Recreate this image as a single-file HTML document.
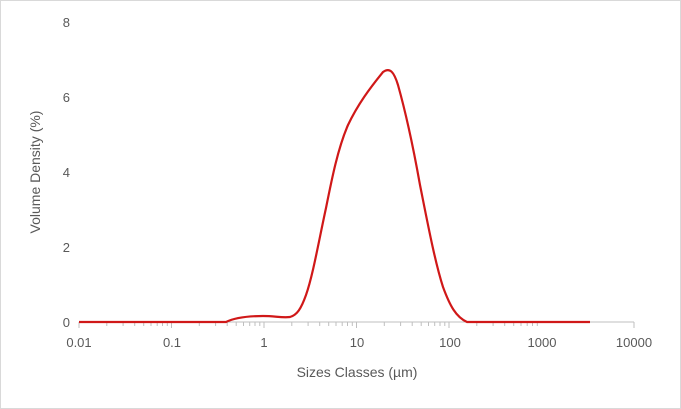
<!DOCTYPE html>
<html><head><style>body{margin:0;background:#fff}svg{display:block}</style></head><body>
<svg width="681" height="409" xmlns="http://www.w3.org/2000/svg" font-family="Liberation Sans, sans-serif">
<defs><g id="dec" stroke="#bfbfbf" stroke-width="1">
<line x1="0" y1="322" x2="0" y2="328"/><line x1="27.8" y1="322" x2="27.8" y2="326"/><line x1="44.1" y1="322" x2="44.1" y2="326"/><line x1="55.7" y1="322" x2="55.7" y2="326"/><line x1="64.7" y1="322" x2="64.7" y2="326"/><line x1="72" y1="322" x2="72" y2="326"/><line x1="78.2" y1="322" x2="78.2" y2="326"/><line x1="83.5" y1="322" x2="83.5" y2="326"/><line x1="88.3" y1="322" x2="88.3" y2="326"/>
</g></defs>
<rect x="0.5" y="0.5" width="680" height="408" fill="#fff" stroke="#d9d9d9"/>
<g fill="#595959" font-size="13" text-anchor="end">
<text x="70" y="27">8</text><text x="70" y="102">6</text><text x="70" y="177">4</text><text x="70" y="252">2</text><text x="70" y="327">0</text>
</g>
<line x1="79" y1="322" x2="634" y2="322" stroke="#bfbfbf" stroke-width="1"/>
<use href="#dec" x="79"/><use href="#dec" x="171.5"/><use href="#dec" x="264"/><use href="#dec" x="356.5"/><use href="#dec" x="449"/>
<line x1="634" y1="322" x2="634" y2="328" stroke="#bfbfbf"/>
<g fill="#595959" font-size="13" text-anchor="middle">
<text x="79" y="347">0.01</text><text x="172" y="347">0.1</text><text x="264" y="347">1</text><text x="357" y="347">10</text><text x="450" y="347">100</text><text x="542" y="347">1000</text><text x="634" y="347">10000</text>
</g>
<text x="357" y="377" fill="#595959" font-size="14" text-anchor="middle">Sizes Classes (µm)</text>
<text transform="translate(40,172) rotate(-90)" fill="#595959" font-size="14" text-anchor="middle">Volume Density (%)</text>
<path d="M79,322 L226,322 C234,318 245,316 263,316 C275,316 282,318 290,317 C297,315 301,309 306,295 C313,275 319,240 326,208 C332,178 338,148 348,125 C358,104 370,88 383,72 C390,67 394,72 398,85 C405,110 412,140 420,185 C428,225 435,262 443,287 C450,306 456,317 467,322 L590,322"
 fill="none" stroke="#d01818" stroke-width="2.2"/>
</svg>
</body></html>
